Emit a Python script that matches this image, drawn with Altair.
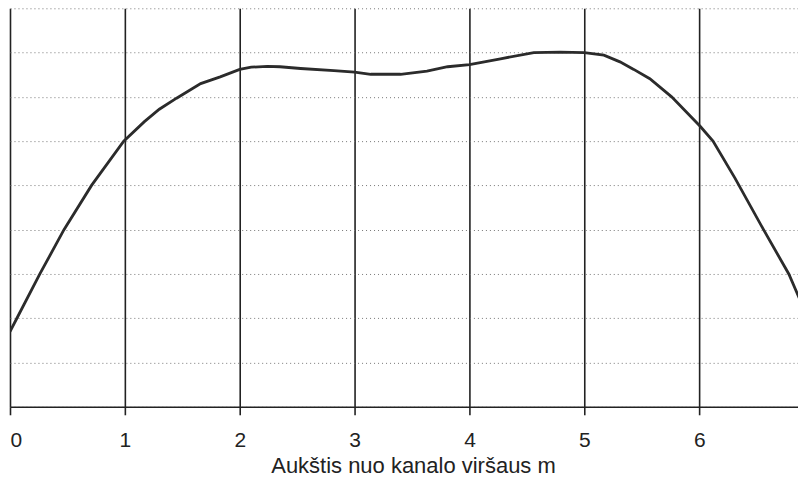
import altair as alt
import pandas as pd

# curve
x_vals = [0.00, 0.06, 0.26, 0.47, 0.71, 0.99, 1.17, 1.30, 1.45, 1.66, 1.83, 2.00,
          2.10, 2.24, 2.35, 2.53, 2.82, 3.00, 3.14, 3.40, 3.63, 3.81, 4.00, 4.27,
          4.56, 4.79, 5.00, 5.17, 5.31, 5.43, 5.57, 5.76, 6.01, 6.12, 6.31, 6.56,
          6.78, 6.93, 7.00]
y_vals = [1.70, 2.00, 3.00, 4.00, 5.00, 6.00, 6.44, 6.72, 6.97, 7.30, 7.45, 7.62,
          7.67, 7.69, 7.68, 7.64, 7.59, 7.56, 7.51, 7.51, 7.58, 7.68, 7.73, 7.86,
          8.00, 8.01, 8.00, 7.94, 7.79, 7.62, 7.41, 7.00, 6.33, 6.00, 5.17, 4.00,
          3.00, 2.10, 1.70]

x_ticks = [0, 1, 2, 3, 4, 5, 6]
y_grid = [0, 1, 2, 3, 4, 5, 6, 7, 8, 9]
x_title = "Aukštis nuo kanalo viršaus m"

df = pd.DataFrame({"x": x_vals, "y": y_vals})

chart = alt.Chart(df).mark_line(color="#2b2b2b", strokeWidth=2.8, clip=True).encode(
    x=alt.X(
        "x:Q",
        scale=alt.Scale(domain=[0, 6.86], nice=False, zero=False),
        axis=alt.Axis(
            values=x_ticks, title=x_title, grid=True,
            gridColor="#222222", gridWidth=1.6, gridOpacity=1,
            domainColor="#222222", domainWidth=1.6,
            tickColor="#222222", tickWidth=1.6, tickSize=8,
            labelFont="Liberation Sans", labelFontSize=21, labelColor="#222222",
            labelBaseline="alphabetic", labelPadding=32,
            titleFont="Liberation Sans", titleFontSize=22, titleFontWeight="normal",
            titleColor="#222222", titleX=403.5, titleY=66,
            titleBaseline="alphabetic", titleAlign="center",
        ),
    ),
    y=alt.Y(
        "y:Q",
        scale=alt.Scale(domain=[0, 9], nice=False, zero=False),
        axis=alt.Axis(
            values=y_grid, labels=False, ticks=False, domain=False, title=None,
            grid=True, gridDash=[1, 3], gridColor="#777777", gridWidth=1, gridOpacity=1,
        ),
    ),
).properties(
    width=789, height=399,
    padding={"left": 1, "top": 0, "right": 0, "bottom": 0},
).configure_view(stroke=None)

chart.save("out.html", embed_options={"renderer": "svg", "actions": False})
